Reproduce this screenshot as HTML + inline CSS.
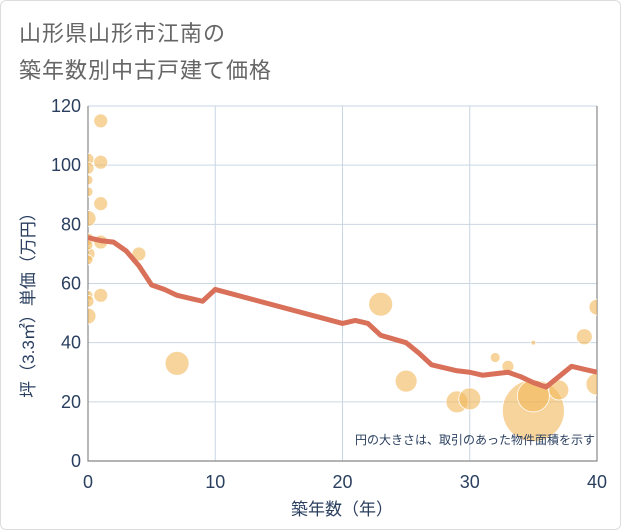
<!DOCTYPE html>
<html><head><meta charset="utf-8"><style>
body{margin:0;background:#fff;}
#wrap{position:relative;width:621px;height:530px;border:1px solid #ddd;box-sizing:border-box;border-radius:6px;overflow:hidden;}
#title{position:absolute;left:18px;top:14px;font:22px "Liberation Sans","Noto Sans CJK JP",sans-serif;color:#666;line-height:37px;letter-spacing:1px;}
svg text{font-family:"Liberation Sans","Noto Sans CJK JP",sans-serif;}
</style></head><body>
<div id="wrap">
<div id="title">山形県山形市江南の<br>築年数別中古戸建て価格</div>
<svg id="chart" width="621" height="530" style="position:absolute;left:0;top:0"><defs><clipPath id="clip"><rect x="87" y="105" width="509" height="355"/></clipPath></defs></svg>
</div>
<script>
const xTicks=[0,10,20,30,40];
const yTicks=[0,20,40,60,80,100,120];
const bubbleAge=[0,0,0,0,0,0,0,0,0,0,0,0,1,1,1,1,1,4,7,23,25,29,30,32,33,35,35,35,37,39,40,40];
const bubblePrice=[102,99,95,91,82,75,70,68,73,56,54,49,115,101,87,74,56,70,33,53,27,20,21,35,32,17,22,40,24,42,52,26];
const bubbleRadius=[6,6,5,5,8,6,7,5,5,5,6,8,7,7,7,7,7,7,12,12,11,11,11,5,6,31,16,2.5,10,8,8,11];
const lineAge=[0,1,2,3,4,5,6,7,8,9,10,20,21,22,23,25,26,27,28,29,30,31,32,33,34,35,36,37,38,39,40];
const linePrice=[75.5,74.5,74,71,66,59.5,58,56,55,54,58,46.5,47.5,46.5,42.5,40,36.5,32.5,31.5,30.5,30,29,29.5,30,28.5,26.5,25,28.5,32,31,30];
const X=v=>87+v*(596-87)/40, Y=v=>460-v*(460-105)/120;
const svg=document.getElementById('chart');const NS='http://www.w3.org/2000/svg';
const TC='#2a3f5f';
function mk(t,a,p){const e=document.createElementNS(NS,t);for(const k in a)e.setAttribute(k,a[k]);(p||svg).appendChild(e);return e;}
yTicks.forEach(v=>{const l=mk('line',{x1:87,x2:596,y1:Y(v),y2:Y(v),stroke:'#c9d6e3','stroke-width':1});

const t=mk('text',{x:80,y:Y(v)+6,'text-anchor':'end','font-size':18,fill:TC});t.textContent=v;
});
xTicks.forEach(v=>{const l=mk('line',{x1:X(v),x2:X(v),y1:105,y2:460,stroke:'#c9d6e3','stroke-width':1});

const t=mk('text',{x:X(v),y:487,'text-anchor':'middle','font-size':18,fill:TC});t.textContent=v;
});
const ax=mk('path',{d:'M87 105V460H596V105',fill:'none',stroke:'#888','stroke-width':1.2});

const g=mk('g',{'clip-path':'url(#clip)'});
bubbleAge.forEach((a,i)=>{const c=mk('circle',{cx:X(a),cy:Y(bubblePrice[i]),r:bubbleRadius[i],fill:'rgba(242,183,90,0.6)',stroke:'#fff','stroke-width':0.8},g);
});
const p=mk('polyline',{points:lineAge.map((a,i)=>X(a)+','+Y(linePrice[i])).join(' '),fill:'none',stroke:'#d9705a','stroke-width':5,'stroke-linejoin':'round','clip-path':'url(#clip)'});

const n=mk('text',{x:594,y:443,'text-anchor':'end','font-size':12,fill:TC});n.textContent='円の大きさは、取引のあった物件面積を示す';

const xt=mk('text',{x:341,y:514,'text-anchor':'middle','font-size':17,fill:TC});xt.textContent='築年数（年）';

const yt=mk('text',{x:0,y:0,'text-anchor':'middle','font-size':17,fill:TC,transform:'translate(33,300) rotate(-90)'});yt.textContent='坪（3.3㎡）単価（万円）';

</script>
</body></html>
